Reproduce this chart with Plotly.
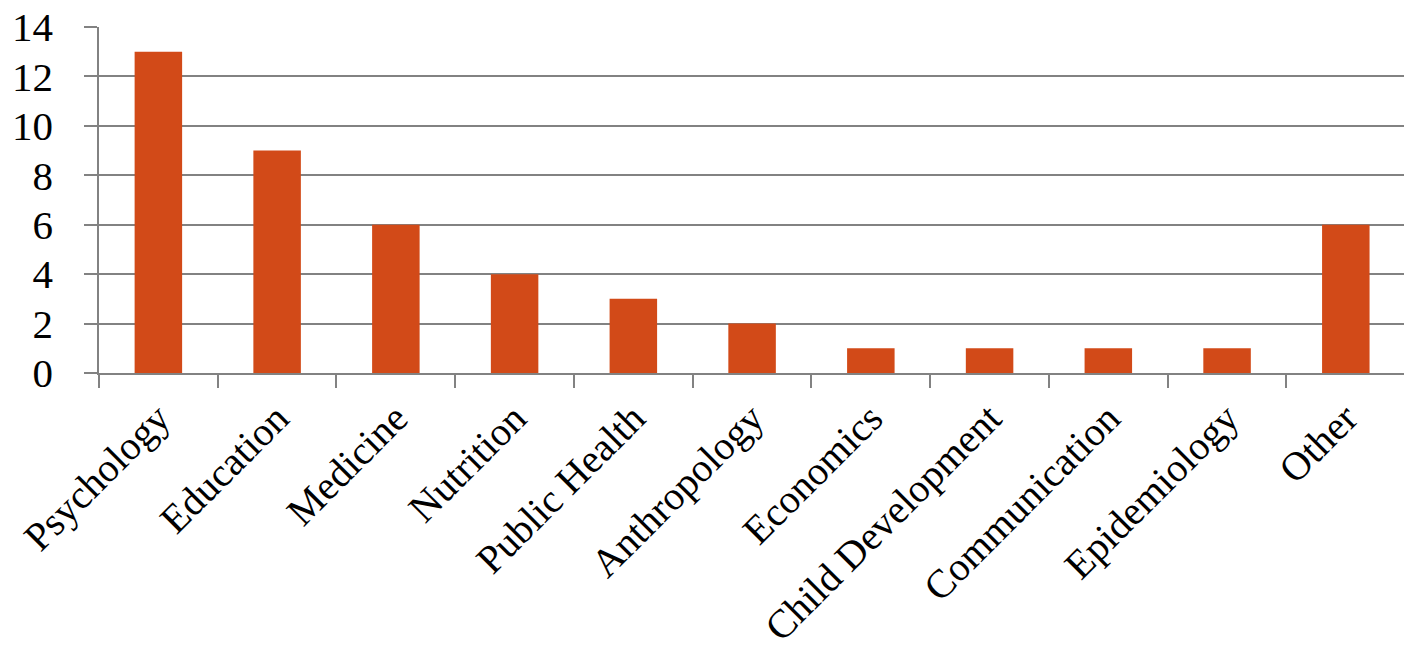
import plotly.graph_objects as go

categories = ["Psychology", "Education", "Medicine", "Nutrition", "Public Health",
              "Anthropology", "Economics", "Child Development", "Communication",
              "Epidemiology", "Other"]
counts = [13, 9, 6, 4, 3, 2, 1, 1, 1, 1, 6]
y_ticks = [0, 2, 4, 6, 8, 10, 12, 14]

BAR = "#D24A18"
GRID = "#828282"
FONT = "Liberation Serif"

fig = go.Figure(go.Bar(
    x=categories, y=counts, width=0.4,
    marker=dict(color=BAR, line=dict(width=0)),
))

fig.update_layout(
    width=1404, height=663,
    margin=dict(l=99, r=0, t=27, b=290),
    paper_bgcolor="white", plot_bgcolor="white",
    font=dict(family=FONT, size=38, color="black"),
    showlegend=False,
    bargap=0.6,
)
fig.update_xaxes(
    range=[-0.5, 10.49],
    tickangle=-45,
    showgrid=False,
    ticks="outside", ticklen=13, tickcolor=GRID, tickwidth=1.5,
    tickson="boundaries",
    showline=True, linecolor=GRID, linewidth=1.5,
    tickfont=dict(family=FONT, size=40, color="black"),
    ticklabelstandoff=4,
    automargin=False,
    fixedrange=True,
)
fig.update_yaxes(
    range=[0, 14], tickvals=y_ticks,
    showgrid=True, gridcolor=GRID, gridwidth=1.5,
    ticks="outside", ticklen=13, tickcolor=GRID, tickwidth=1.5,
    showline=True, linecolor=GRID, linewidth=1.5,
    zeroline=False,
    tickfont=dict(family=FONT, size=41, color="black"),
    ticklabelstandoff=23,
    automargin=False,
)

fig.write_html(
    "out.html",
    config={"displayModeBar": False},
    post_script="document.body.style.margin='0';document.body.style.overflow='hidden';",
)
